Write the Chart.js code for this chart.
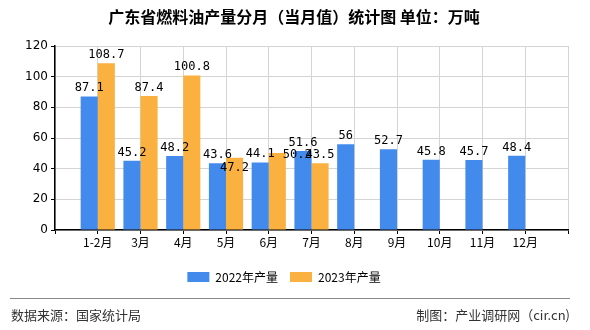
<!DOCTYPE html>
<html>
<head>
<meta charset="utf-8">
<script src="https://cdn.jsdelivr.net/npm/chart.js@4/dist/chart.umd.min.js"></script>
<style>
  html, body { margin: 0; padding: 0; background: #fff; }
  #wrap { width: 590px; height: 330px; position: relative; }
</style>
</head>
<body>
<div id="wrap"><canvas id="chart" width="590" height="330"></canvas></div>
<script>
// categories (blank ones at both ends keep the axis edges like the original)
const months = ["", "1-2月", "3月", "4月", "5月", "6月", "7月", "8月", "9月", "10月", "11月", "12月", ""];
const output2022 = [null, 87.1, 45.2, 48.2, 43.6, 44.1, 51.6, 56, 52.7, 45.8, 45.7, 48.4, null];
const output2023 = [null, 108.7, 87.4, 100.8, 47.2, 50.2, 43.5, null, null, null, null, null, null];
const yTicks = [0, 20, 40, 60, 80, 100, 120];

const CJK = '"Noto Sans CJK SC", "DejaVu Sans", sans-serif';

// value labels above each bar; 2023 label is nudged when it hits the 2022 one
const valueLabels = {
    id: "valueLabels",
    afterDatasetsDraw(chart) {
        const ctx = chart.ctx;
        ctx.save();
        ctx.font = '12px "DejaVu Sans Mono", monospace';
        ctx.fillStyle = "#000";
        ctx.textAlign = "center";
        ctx.textBaseline = "alphabetic";
        const m0 = chart.getDatasetMeta(0), m1 = chart.getDatasetMeta(1);
        for (let i = 0; i < months.length; i++) {
            let y0 = null;
            if (output2022[i] != null) {
                const b = m0.data[i];
                y0 = b.y - 5;
                ctx.fillText(String(output2022[i]), b.x, y0);
            }
            if (output2023[i] != null) {
                const b = m1.data[i];
                let y = b.y - 5;
                let x = b.x;
                const d = y0 == null ? 99 : y0 - y;
                if (Math.abs(d) < 12) {
                    if (d > 0 && d > 7) { x += 20; y = b.y + 5; }
                    else y = b.y + 13;
                }
                ctx.fillText(String(output2023[i]), x, y);
            }
        }
        ctx.restore();
    }
};

// title + footer
const decorations = {
    id: "decorations",
    afterDraw(chart) {
        const ctx = chart.ctx;
        ctx.save();
        ctx.fillStyle = "#000";
        ctx.font = "bold 16px " + CJK;
        ctx.textAlign = "center";
        ctx.textBaseline = "middle";
        ctx.fillText("广东省燃料油产量分月（当月值）统计图 单位：万吨", 294, 17);

        ctx.strokeStyle = "#888";
        ctx.lineWidth = 1;
        ctx.beginPath();
        ctx.moveTo(10, 298.5);
        ctx.lineTo(570, 298.5);
        ctx.stroke();

        ctx.fillStyle = "#333";
        ctx.font = "13px " + CJK;
        ctx.textAlign = "left";
        ctx.fillText("数据来源：国家统计局", 11, 315);
        ctx.textAlign = "right";
        ctx.fillText("制图：产业调研网（cir.cn)", 570, 315);
        ctx.restore();
    }
};

new Chart(document.getElementById("chart").getContext("2d"), {
    type: "bar",
    data: {
        labels: months,
        datasets: [{
            label: "2022年产量",
            data: output2022,
            backgroundColor: "#428bed"
        }, {
            label: "2023年产量",
            data: output2023,
            backgroundColor: "#fbb13f"
        }]
    },
    options: {
        responsive: false,
        animation: false,
        categoryPercentage: 0.8,
        barPercentage: 1.0,
        layout: {
            padding: { top: 46, left: 0, right: 22, bottom: 37 }
        },
        plugins: {
            legend: {
                position: "bottom",
                labels: {
                    boxWidth: 22,
                    boxHeight: 10,
                    padding: 12,
                    color: "#000",
                    font: { size: 12, family: CJK }
                }
            },
            title: { display: false },
            tooltip: { enabled: false }
        },
        scales: {
            x: {
                offset: false,
                grid: {
                    offset: false,
                    color: "#d4d4d4",
                    tickColor: "#000",
                    tickLength: 4,
                    drawOnChartArea: true
                },
                border: { color: "#000", width: 1.5 },
                ticks: {
                    color: "#000",
                    autoSkip: false,
                    maxRotation: 0,
                    padding: 1,
                    font: { size: 12, family: CJK }
                },
                afterFit(scale) { scale.height = 29; }
            },
            y: {
                min: 0,
                max: 120,
                afterBuildTicks(scale) { scale.ticks = yTicks.map(v => ({ value: v })); },
                grid: {
                    color: "#d4d4d4",
                    tickColor: "#000",
                    tickLength: 4
                },
                border: { color: "#000", width: 1.5 },
                ticks: {
                    color: "#000",
                    padding: 3,
                    font: { size: 12, family: '"DejaVu Sans", sans-serif' }
                },
                afterFit(scale) { scale.width = 55; }
            }
        }
    },
    plugins: [valueLabels, decorations]
});
</script>
</body>
</html>
